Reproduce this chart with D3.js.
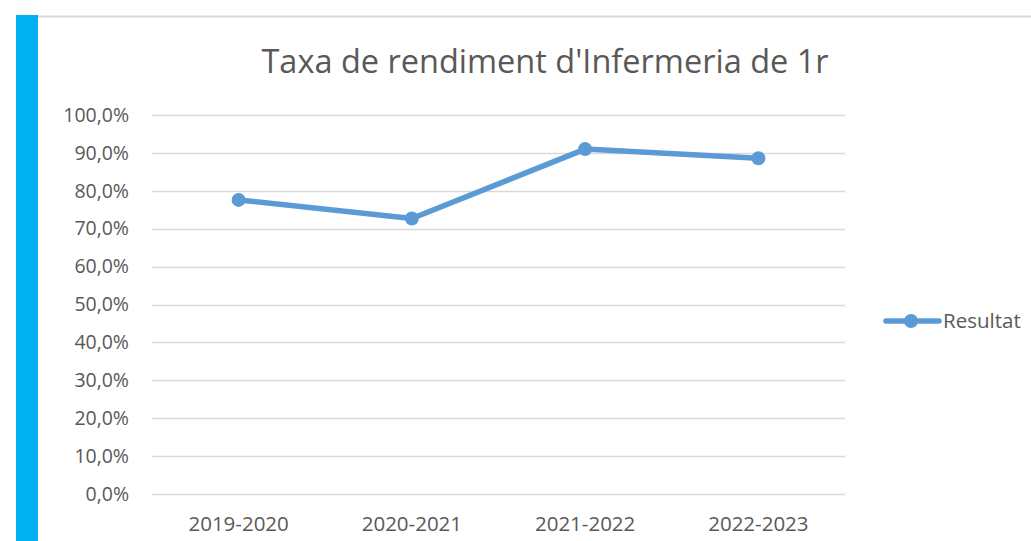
<!DOCTYPE html>
<html>
<head>
<meta charset="utf-8">
<script src="https://cdn.jsdelivr.net/npm/d3@7"></script>
<style>
  body { margin: 0; background: #fff; }
  svg { display: block; font-family: "Open Sans", "Liberation Sans", sans-serif; }
</style>
</head>
<body>
<div id="chart"></div>
<script>
// data
var categories = ['2019-2020', '2020-2021', '2021-2022', '2022-2023'];
var resultat = [0.776, 0.727, 0.910, 0.886];
var yTicks = [0, 0.1, 0.2, 0.3, 0.4, 0.5, 0.6, 0.7, 0.8, 0.9, 1.0];
var seriesName = 'Resultat';
var title = "Taxa de rendiment d'Infermeria de 1r";

var width = 1031, height = 541;
var color = '#5b9bd5';

var svg = d3.select('#chart')
  .append('svg')
  .attr('width', width)
  .attr('height', height);

// blue side strip and top border of the frame
svg.append('rect').attr('x', 16).attr('y', 15).attr('width', 22).attr('height', height - 15).attr('fill', '#00b0f0');
svg.append('line').attr('x1', 38).attr('x2', width).attr('y1', 16.5).attr('y2', 16.5)
  .attr('stroke', '#d9d9d9').attr('stroke-width', 2);

var x = d3.scaleBand().domain(categories).range([152, 845]);
var y = d3.scaleLinear().domain([0, 1]).range([494, 115]);

var fmt = function (d) { return d3.format('.1f')(d * 100).replace('.', ',') + '%'; };

// gridlines
svg.append('g').selectAll('line')
  .data(yTicks)
  .enter()
  .append('line')
  .attr('x1', 152).attr('x2', 845)
  .attr('y1', function (d) { return Math.round(y(d)) + 0.5; })
  .attr('y2', function (d) { return Math.round(y(d)) + 0.5; })
  .attr('stroke', '#d9d9d9').attr('stroke-width', 1.5);

// y axis labels
var yAxis = svg.append('g')
  .attr('transform', 'translate(129,0)')
  .call(d3.axisLeft(y).tickValues(yTicks).tickFormat(fmt).tickSize(0).tickPadding(0));
yAxis.select('.domain').remove();
yAxis.selectAll('text').attr('fill', '#595959').style('font-size', '19.5px')
  .style('font-family', '"Open Sans", "Liberation Sans", sans-serif');

// x axis labels
var xAxis = svg.append('g')
  .attr('transform', 'translate(0,516)')
  .call(d3.axisBottom(x).tickSize(0).tickPadding(0));
xAxis.select('.domain').remove();
xAxis.selectAll('text').attr('fill', '#595959').style('font-size', '20.5px')
  .style('font-family', '"Open Sans", "Liberation Sans", sans-serif');

// title
svg.append('text')
  .attr('x', 545).attr('y', 73)
  .attr('text-anchor', 'middle')
  .attr('fill', '#595959')
  .style('font-size', '32.5px')
  .text(title);

// line + markers
var line = d3.line()
  .x(function (d, i) { return x(categories[i]) + x.bandwidth() / 2; })
  .y(function (d) { return y(d); });

svg.append('path')
  .datum(resultat)
  .attr('d', line)
  .attr('fill', 'none')
  .attr('stroke', color)
  .attr('stroke-width', 5.5)
  .attr('stroke-linejoin', 'round')
  .attr('stroke-linecap', 'round');

svg.selectAll('circle.pt')
  .data(resultat)
  .enter()
  .append('circle')
  .attr('class', 'pt')
  .attr('cx', function (d, i) { return x(categories[i]) + x.bandwidth() / 2; })
  .attr('cy', function (d) { return y(d); })
  .attr('r', 7)
  .attr('fill', color);

// legend
var lg = svg.append('g').attr('transform', 'translate(0,321)');
lg.append('line').attr('x1', 886).attr('x2', 939).attr('y1', 0).attr('y2', 0)
  .attr('stroke', color).attr('stroke-width', 5.5).attr('stroke-linecap', 'round');
lg.append('circle').attr('cx', 911).attr('cy', 0).attr('r', 7).attr('fill', color);
lg.append('text').attr('x', 943).attr('y', 0).attr('dy', '0.35em')
  .attr('fill', '#595959').style('font-size', '20.5px').text(seriesName);
</script>
</body>
</html>
